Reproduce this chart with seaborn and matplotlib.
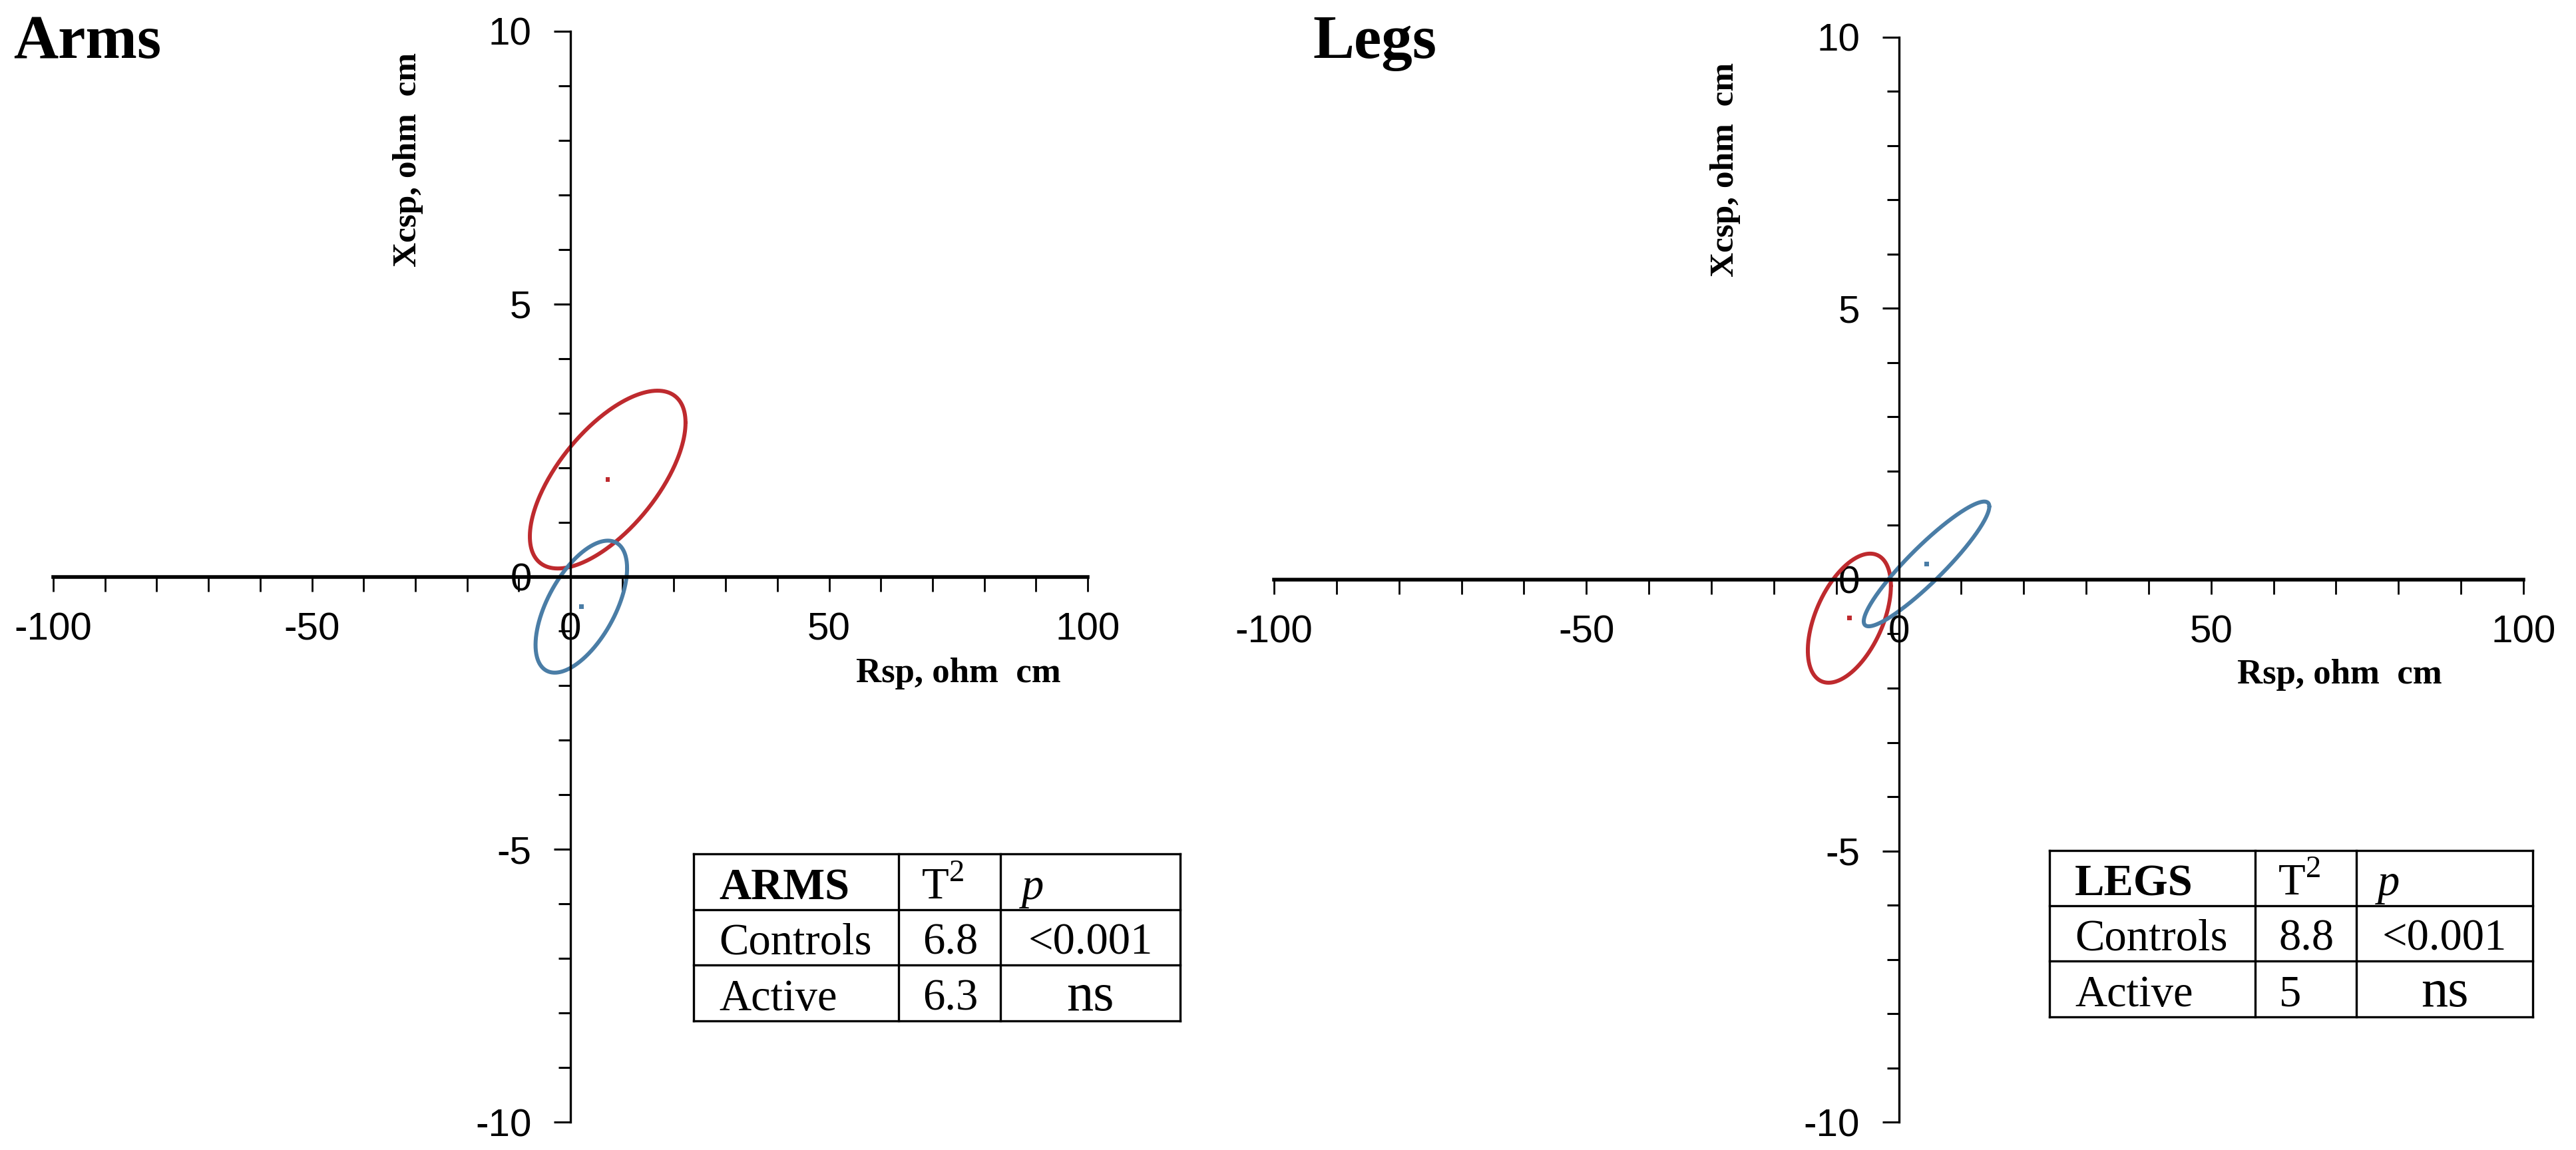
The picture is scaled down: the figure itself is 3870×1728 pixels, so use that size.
import numpy as np
import pandas as pd
import seaborn as sns
import matplotlib.pyplot as plt
from matplotlib.ticker import MultipleLocator

# values
groups = ["Controls", "Active"]
group_colors = {"Controls": "#BE2A2E", "Active": "#4A7DA6"}

# ellipse summaries: centre, half range in x and y, correlation
arms_cx = [7.2, 2.1]
arms_cy = [1.78, -0.55]
arms_hx = [15.05, 8.85]
arms_hy = [1.63, 1.21]
arms_r = [0.64, 0.58]

legs_cx = [-7.9, 4.45]
legs_cy = [-0.71, 0.29]
legs_hx = [6.65, 10.05]
legs_hy = [1.19, 1.15]
legs_r = [0.5, 0.92]

# T2 tables
arms_t2 = ["6.8", "6.3"]
legs_t2 = ["8.8", "5"]
p_values = ["<0.001", "ns"]

x_ticks = [-100, -50, 0, 50, 100]
y_ticks = [-10, -5, 0, 5, 10]


def ellipse_frame(cx, cy, hx, hy, r):
    frames = []
    t = np.linspace(0, 2 * np.pi, 300)
    for g, a, b, c, d, e in zip(groups, cx, cy, hx, hy, r):
        x = a + c * np.cos(t)
        y = b + d * (e * np.cos(t) + np.sqrt(1 - e * e) * np.sin(t))
        frames.append(pd.DataFrame({"x": x, "y": y, "group": g}))
    return pd.concat(frames, ignore_index=True)


sns.set_style("white")
plt.rcParams["font.family"] = ["Liberation Sans", "DejaVu Sans"]
plt.rcParams["axes.unicode_minus"] = False
plt.rcParams["text.color"] = "black"
serif = ["Liberation Serif", "DejaVu Serif"]

W, H = 3870, 1728
fig = plt.figure(figsize=(W / 100, H / 100), dpi=100)

# axes placed in pixels (left, top of y=10, right, bottom of y=-10)
panels = [
    ("Arms", (80, 47, 1634, 1686), arms_cx, arms_cy, arms_hx, arms_hy, arms_r,
     (0.343, 0.882), (0.875, 0.411), 20),
    ("Legs", (1914, 56, 3791, 1686), legs_cx, legs_cy, legs_hx, legs_hy, legs_r,
     (0.361, 0.878), (0.853, 0.412), 1972),
]

for title, box, cx, cy, hx, hy, r, ylab_pos, xlab_pos, title_x in panels:
    l, t, rr, b = box
    ax = fig.add_axes([l / W, 1 - b / H, (rr - l) / W, (b - t) / H])
    ax.patch.set_alpha(0)
    df = ellipse_frame(cx, cy, hx, hy, r)
    sns.lineplot(data=df, x="x", y="y", hue="group", palette=group_colors,
                 sort=False, estimator=None, lw=4.3, legend=False, ax=ax)
    sns.scatterplot(x=cx, y=cy, hue=groups, palette=group_colors, marker="s",
                    s=24, linewidth=0, legend=False, ax=ax)
    ax.set_xlim(-100, 100)
    ax.set_ylim(-10, 10)
    for side in ["top", "right"]:
        ax.spines[side].set_visible(False)
    ax.spines["left"].set_position("zero")
    ax.spines["bottom"].set_position("zero")
    ax.spines["bottom"].set_linewidth(4.0)
    ax.spines["left"].set_linewidth(2.4)
    ax.spines["bottom"].set_color("black")
    ax.spines["left"].set_color("black")
    ax.set_xticks(x_ticks)
    ax.set_yticks(y_ticks)
    ax.xaxis.set_minor_locator(MultipleLocator(10))
    ax.yaxis.set_minor_locator(MultipleLocator(1))
    ax.tick_params(axis="x", which="both", bottom=True, direction="out",
                   length=16, width=2.0, colors="black", labelsize=42, pad=22)
    ax.tick_params(axis="y", which="major", left=True, direction="out",
                   length=18, width=2.2, colors="black", labelsize=42, pad=24)
    ax.tick_params(axis="y", which="minor", left=True, direction="out",
                   length=13, width=2.2, colors="black")
    ax.set_xlabel("Rsp, ohm  cm", fontsize=38, fontweight="bold", family=serif,
                  color="black")
    ax.set_ylabel("Xcsp, ohm  cm", fontsize=37, fontweight="bold", family=serif,
                  color="black")
    ax.xaxis.set_label_coords(*xlab_pos)
    ax.yaxis.set_label_coords(*ylab_pos)
    ax.yaxis.label.set_va("center")
    ax.xaxis.label.set_va("center")
    fig.text(title_x / W, 1 - 87 / H, title, fontsize=67, fontweight="bold",
             family=serif, va="baseline", ha="left")

# tables drawn on a pixel overlay
ov = fig.add_axes([0, 0, 1, 1])
ov.set_xlim(0, W)
ov.set_ylim(H, 0)
ov.axis("off")
ov.patch.set_alpha(0)

tables = [
    ("ARMS", arms_t2, [1042, 1350, 1503, 1773], [1283, 1367, 1450, 1534]),
    ("LEGS", legs_t2, [3079, 3388, 3540, 3805], [1278, 1361, 1444, 1528]),
]
for name, t2, cols, rows in tables:
    for y in rows:
        ov.plot([cols[0], cols[-1]], [y, y], color="black", lw=2.4,
                solid_capstyle="projecting")
    for x in cols:
        ov.plot([x, x], [rows[0], rows[-1]], color="black", lw=2.4,
                solid_capstyle="projecting")
    base = [rows[i + 1] - 16 for i in range(3)]
    ov.text(cols[0] + 38, base[0], name, fontsize=48, fontweight="bold",
            family=serif, va="baseline")
    ov.text(cols[1] + 34, base[0], r"T$^\mathregular{2}$", fontsize=48,
            family=serif, va="baseline")
    ov.text(cols[2] + 32, base[0], "p", fontsize=48, fontstyle="italic",
            family=serif, va="baseline")
    for i, g in enumerate(groups):
        ov.text(cols[0] + 38, base[i + 1], g, fontsize=48, family=serif,
                va="baseline")
        ov.text(cols[1] + 36, base[i + 1], t2[i], fontsize=48, family=serif,
                va="baseline")
        ov.text((cols[2] + cols[3]) / 2, base[i + 1], p_values[i],
                fontsize=58 if p_values[i] == "ns" else 48, family=serif,
                va="baseline", ha="center")

fig.savefig("out.png", dpi=100)
